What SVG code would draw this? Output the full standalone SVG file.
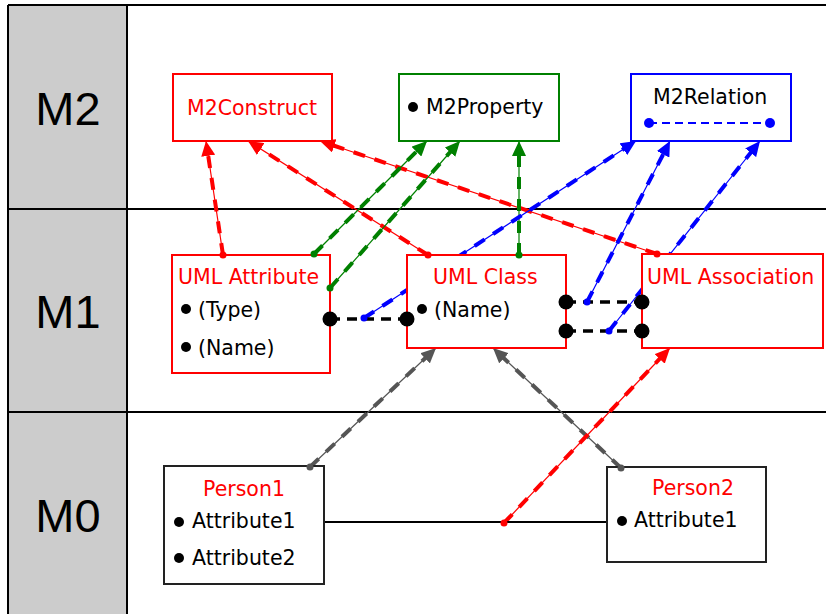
<svg xmlns="http://www.w3.org/2000/svg" width="826" height="614" viewBox="0 0 826 614">
  <defs>
    <style>
      .label { font-family: "DejaVu Sans", "Verdana", sans-serif; font-size: 20.5px; }
      .level { font-family: "Liberation Sans", Arial, sans-serif; font-size: 47px; fill: #000; text-anchor: middle; }
      .red { fill: #ff0000; }
      .blk { fill: #000; }
      .box { fill: #fff; stroke-width: 2; }
      .thin { fill: none; stroke-width: 1.2; }
      .dash { fill: none; stroke-width: 4; stroke-dasharray: 12 10; }
      .c-red { stroke: #ff0000; }
      .c-green { stroke: #008000; }
      .c-blue { stroke: #0000ff; }
      .c-gray { stroke: #555555; }
      .link { fill: none; stroke: #000; stroke-width: 3.5; stroke-dasharray: 10 7; }
    </style>
    <marker id="arr-red" markerUnits="userSpaceOnUse" markerWidth="16" markerHeight="14" refX="15" refY="7" orient="auto">
      <path d="M0,0 L15,7 L0,14 Z" fill="#ff0000"/>
    </marker>
    <marker id="arr-green" markerUnits="userSpaceOnUse" markerWidth="16" markerHeight="14" refX="15" refY="7" orient="auto">
      <path d="M0,0 L15,7 L0,14 Z" fill="#008000"/>
    </marker>
    <marker id="arr-blue" markerUnits="userSpaceOnUse" markerWidth="16" markerHeight="14" refX="15" refY="7" orient="auto">
      <path d="M0,0 L15,7 L0,14 Z" fill="#0000ff"/>
    </marker>
    <marker id="arr-gray" markerUnits="userSpaceOnUse" markerWidth="16" markerHeight="14" refX="15" refY="7" orient="auto">
      <path d="M0,0 L15,7 L0,14 Z" fill="#555555"/>
    </marker>
  </defs>

  <!-- background and level bands -->
  <g id="levels">
    <rect x="0" y="0" width="826" height="614" fill="#fff"/>
    <rect x="8" y="5" width="119" height="609" fill="#cccccc"/>
    <path d="M8,5 H826 M8,5 V614 M127,5 V614 M8,209 H826 M8,412 H826" stroke="#000" stroke-width="2" fill="none"/>
    <text class="level" x="68" y="125">M2</text>
    <text class="level" x="68" y="328">M1</text>
    <text class="level" x="68" y="532">M0</text>
  </g>

  <!-- instance-of connectors: thin line with heavy dashes and an arrowhead -->
  <g id="connectors">
    <!-- to M2Construct -->
    <path class="thin c-red" d="M223,255 L206,141" marker-end="url(#arr-red)"/>
    <path class="dash c-red" d="M223,255 L207.8,152.9"/>
    <path class="thin c-red" d="M428,255 L248,141" marker-end="url(#arr-red)"/>
    <path class="dash c-red" d="M428,255 L258.1,147.4"/>
    <path class="thin c-red" d="M657,254 L320,141" marker-end="url(#arr-red)"/>
    <path class="dash c-red" d="M657,254 L331.4,144.8"/>
    <!-- to M2Property -->
    <path class="thin c-green" d="M314,254 L427,141" marker-end="url(#arr-green)"/>
    <path class="dash c-green" d="M314,254 L418.5,149.5"/>
    <path class="thin c-green" d="M330,288 L460,141" marker-end="url(#arr-green)"/>
    <path class="dash c-green" d="M330,288 L452,150"/>
    <path class="thin c-green" d="M519,255 L519,141" marker-end="url(#arr-green)"/>
    <path class="dash c-green" d="M519,255 L519,153"/>
    <!-- to M2Relation -->
    <path class="thin c-blue" d="M364,318 L636,141" marker-end="url(#arr-blue)"/>
    <path class="dash c-blue" d="M364,318 L625.9,147.5"/>
    <path class="thin c-blue" d="M587,302 L670,141" marker-end="url(#arr-blue)"/>
    <path class="dash c-blue" d="M587,302 L664.5,151.7"/>
    <path class="thin c-blue" d="M609,331 L760,141" marker-end="url(#arr-blue)"/>
    <path class="dash c-blue" d="M609,331 L752.5,150.4"/>
    <!-- M0 to M1 -->
    <path class="thin c-gray" d="M310,467 L436,348" marker-end="url(#arr-gray)"/>
    <path class="dash c-gray" d="M310,467 L427.3,356.2"/>
    <path class="thin c-gray" d="M621,468 L493,348" marker-end="url(#arr-gray)"/>
    <path class="dash c-gray" d="M621,468 L501.7,356.2"/>
    <path class="thin c-red" d="M504,523 L670,348" marker-end="url(#arr-red)"/>
    <path class="dash c-red" d="M504,523 L661.7,356.7"/>
    <!-- model-level links -->
    <path class="link" d="M330,319 H407"/>
    <path class="link" d="M566,302 H642"/>
    <path class="link" d="M566,331 H642"/>
    <path d="M324,522 H607" stroke="#000" stroke-width="2" fill="none"/>
  </g>

  <!-- M2 level -->
  <g id="m2construct">
    <rect class="box" x="173" y="74" width="159" height="67" stroke="#ff0000"/>
    <text class="label red" x="252" y="115" text-anchor="middle">M2Construct</text>
  </g>
  <g id="m2property">
    <rect class="box" x="399" y="74" width="160" height="67" stroke="#008000"/>
    <circle cx="413" cy="107" r="5" class="blk"/>
    <text class="label blk" x="426" y="114">M2Property</text>
  </g>
  <g id="m2relation">
    <rect class="box" x="631" y="74" width="160" height="67" stroke="#0000ff"/>
    <text class="label blk" x="653" y="104">M2Relation</text>
    <path d="M649,123 H770" stroke="#0000ff" stroke-width="2" stroke-dasharray="8 5" fill="none"/>
    <circle cx="649" cy="123" r="5" fill="#0000ff"/>
    <circle cx="770" cy="123" r="5" fill="#0000ff"/>
  </g>

  <!-- M1 level -->
  <g id="uml-attribute">
    <rect class="box" x="172" y="255" width="158" height="118" stroke="#ff0000"/>
    <text class="label red" x="178" y="284">UML Attribute</text>
    <circle cx="186" cy="309" r="5" class="blk"/>
    <text class="label blk" x="198" y="317">(Type)</text>
    <circle cx="186" cy="347" r="5" class="blk"/>
    <text class="label blk" x="198" y="355">(Name)</text>
  </g>
  <g id="uml-class">
    <rect class="box" x="407" y="255" width="159" height="93" stroke="#ff0000"/>
    <text class="label red" x="433" y="284">UML Class</text>
    <circle cx="422" cy="309" r="5" class="blk"/>
    <text class="label blk" x="434" y="317">(Name)</text>
  </g>
  <g id="uml-association">
    <rect class="box" x="642" y="254" width="181" height="94" stroke="#ff0000"/>
    <text class="label red" x="647" y="284">UML Association</text>
  </g>

  <!-- M0 level -->
  <g id="person1">
    <rect class="box" x="164" y="466" width="160" height="118" stroke="#222"/>
    <text class="label red" x="203" y="496">Person1</text>
    <circle cx="179" cy="522" r="5" class="blk"/>
    <text class="label blk" x="192" y="528">Attribute1</text>
    <circle cx="179" cy="558" r="5" class="blk"/>
    <text class="label blk" x="192" y="565">Attribute2</text>
  </g>
  <g id="person2">
    <rect class="box" x="607" y="467" width="159" height="95" stroke="#222"/>
    <text class="label red" x="652" y="495">Person2</text>
    <circle cx="622" cy="521" r="5" class="blk"/>
    <text class="label blk" x="634" y="527">Attribute1</text>
  </g>

  <!-- connector end points drawn over the box borders -->
  <g id="connector-ends">
    <circle cx="223" cy="255" r="3.5" fill="#ff0000"/>
    <circle cx="428" cy="255" r="3.5" fill="#ff0000"/>
    <circle cx="657" cy="254" r="3.5" fill="#ff0000"/>
    <circle cx="504" cy="523" r="3.5" fill="#ff0000"/>
    <circle cx="314" cy="254" r="3.5" fill="#008000"/>
    <circle cx="330" cy="288" r="3.5" fill="#008000"/>
    <circle cx="519" cy="255" r="3.5" fill="#008000"/>
    <circle cx="310" cy="467" r="3.5" fill="#555555"/>
    <circle cx="621" cy="468" r="3.5" fill="#555555"/>
    <circle cx="330" cy="319" r="7.5" fill="#000"/>
    <circle cx="407" cy="319" r="7.5" fill="#000"/>
    <circle cx="566" cy="302" r="7.5" fill="#000"/>
    <circle cx="566" cy="331" r="7.5" fill="#000"/>
    <circle cx="642" cy="302" r="7.5" fill="#000"/>
    <circle cx="642" cy="331" r="7.5" fill="#000"/>
    <circle cx="364" cy="318" r="3.5" fill="#0000ff"/>
    <circle cx="587" cy="302" r="3.5" fill="#0000ff"/>
    <circle cx="609" cy="331" r="3.5" fill="#0000ff"/>
  </g>
</svg>
